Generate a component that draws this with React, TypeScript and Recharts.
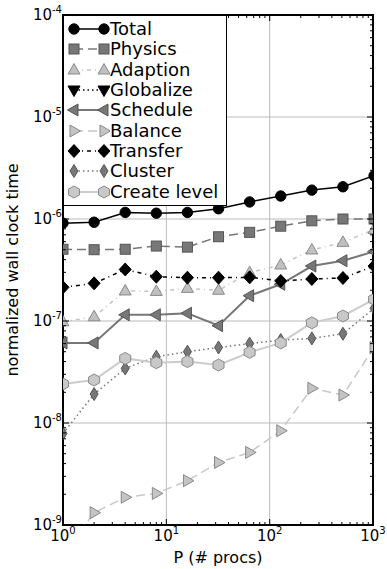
import React from 'react';
import { LineChart, Line, XAxis, YAxis, CartesianGrid, ReferenceArea, Legend } from 'recharts';

const procs = [1, 2, 4, 8, 16, 32, 64, 128, 256, 512, 1024];

const total = [9.1e-7, 9.3e-7, 1.16e-6, 1.14e-6, 1.16e-6, 1.26e-6, 1.47e-6, 1.68e-6, 1.92e-6, 2.07e-6, 2.66e-6];
const physics = [5.05e-7, 5.0e-7, 5.05e-7, 5.43e-7, 5.3e-7, 6.7e-7, 7.4e-7, 8.5e-7, 9.6e-7, 1.0e-6, 1.0e-6];
const adaption = [9.8e-8, 1.1e-7, 1.97e-7, 1.95e-7, 2.09e-7, 2.0e-7, 2.98e-7, 3.54e-7, 4.97e-7, 5.9e-7, 7.9e-7];
const globalize = [null, null, null, null, null, null, null, null, null, null, null];
const schedule = [6.1e-8, 6.1e-8, 1.15e-7, 1.15e-7, 1.19e-7, 9.0e-8, 1.77e-7, 2.29e-7, 3.46e-7, 3.9e-7, 4.8e-7];
const balance = [5.1e-10, 1.32e-9, 1.87e-9, 2.04e-9, 2.72e-9, 4.1e-9, 5.15e-9, 8.4e-9, 2.19e-8, 1.88e-8, 5.5e-8];
const transfer = [2.14e-7, 2.34e-7, 3.2e-7, 2.72e-7, 2.66e-7, 2.66e-7, 2.68e-7, 2.47e-7, 2.58e-7, 2.64e-7, 3.46e-7];
const cluster = [7.9e-9, 1.92e-8, 3.43e-8, 4.47e-8, 5.0e-8, 5.5e-8, 6.0e-8, 6.5e-8, 6.75e-8, 7.5e-8, 1.33e-7];
const createLevel = [2.41e-8, 2.64e-8, 4.3e-8, 3.9e-8, 4.0e-8, 3.7e-8, 4.93e-8, 6.1e-8, 9.6e-8, 1.12e-7, 1.63e-7];

const xMajor = [1, 10, 100, 1000];
const xMinor = [2, 3, 4, 5, 6, 7, 8, 9, 20, 30, 40, 50, 60, 70, 80, 90, 200, 300, 400, 500, 600, 700, 800, 900];
const yMajor = [1e-9, 1e-8, 1e-7, 1e-6, 1e-5, 1e-4];
const yMinor = [1e-9, 1e-8, 1e-7, 1e-6, 1e-5].flatMap((d) => [2, 3, 4, 5, 6, 7, 8, 9].map((m) => m * d));

const W = 387;
const H = 569;
const PLOT_TOP = 15;
const PLOT_RIGHT = 373;

type Kind = 'circle' | 'square' | 'triUp' | 'triDown' | 'triLeft' | 'triRight' | 'diamond' | 'thinDiamond' | 'hexagon';

const series: { key: string; name: string; values: (number | null)[]; kind: Kind; line: string; fill: string; edge: string; width: number; dash?: string }[] = [
  { key: 'total', name: 'Total', values: total, kind: 'circle', line: '#000', fill: '#000', edge: '#000', width: 1.5 },
  { key: 'physics', name: 'Physics', values: physics, kind: 'square', line: '#777', fill: '#777', edge: '#555', width: 1.5, dash: '9 5' },
  { key: 'adaption', name: 'Adaption', values: adaption, kind: 'triUp', line: '#c4c4c4', fill: '#c0c0c0', edge: '#8a8a8a', width: 1.5, dash: '4 4 1 4' },
  { key: 'globalize', name: 'Globalize', values: globalize, kind: 'triDown', line: '#000', fill: '#000', edge: '#000', width: 1.5, dash: '1.5 3' },
  { key: 'schedule', name: 'Schedule', values: schedule, kind: 'triLeft', line: '#777', fill: '#777', edge: '#555', width: 2 },
  { key: 'balance', name: 'Balance', values: balance, kind: 'triRight', line: '#c8c8c8', fill: '#c4c4c4', edge: '#888', width: 1.5, dash: '9 5' },
  { key: 'transfer', name: 'Transfer', values: transfer, kind: 'diamond', line: '#000', fill: '#000', edge: '#000', width: 1.5, dash: '4 4 1 4' },
  { key: 'cluster', name: 'Cluster', values: cluster, kind: 'thinDiamond', line: '#777', fill: '#777', edge: '#555', width: 1.5, dash: '1.5 3' },
  { key: 'createLevel', name: 'Create level', values: createLevel, kind: 'hexagon', line: '#cccccc', fill: '#c8c8c8', edge: '#8a8a8a', width: 2 },
];

const rows = procs.map((p, i) => {
  const row: Record<string, number | null> = { p };
  series.forEach((s) => (row[s.key] = s.values[i]));
  return row;
});

const Marker = ({ kind, cx, cy, fill, edge }: { kind: Kind; cx: number; cy: number; fill: string; edge: string }) => {
  const common = { fill, stroke: edge, strokeWidth: 1 };
  const pts = (arr: number[][]) => arr.map(([dx, dy]) => `${cx + dx},${cy + dy}`).join(' ');
  switch (kind) {
    case 'circle':
      return <circle cx={cx} cy={cy} r={5.2} {...common} />;
    case 'square':
      return <rect x={cx - 5} y={cy - 5} width={10} height={10} {...common} />;
    case 'triUp':
      return <polygon points={pts([[0, -6.5], [6, 4], [-6, 4]])} {...common} />;
    case 'triDown':
      return <polygon points={pts([[0, 6.5], [6, -4], [-6, -4]])} {...common} />;
    case 'triLeft':
      return <polygon points={pts([[-6.5, 0], [4, -6], [4, 6]])} {...common} />;
    case 'triRight':
      return <polygon points={pts([[6.5, 0], [-4, -6], [-4, 6]])} {...common} />;
    case 'diamond':
      return <polygon points={pts([[0, -6.5], [6, 0], [0, 6.5], [-6, 0]])} {...common} />;
    case 'thinDiamond':
      return <polygon points={pts([[0, -6.5], [4, 0], [0, 6.5], [-4, 0]])} {...common} />;
    case 'hexagon':
      return <polygon points={pts([[0, -6], [5.5, -3], [5.5, 3], [0, 6], [-5.5, 3], [-5.5, -3]])} {...common} />;
  }
  return null;
};

const Pow10 = ({ v }: { v: number }) => <>10<tspan dy={-7} fontSize={10}>{Math.round(Math.log10(v))}</tspan></>;

const XTick = (props: any) => {
  const { x, y, payload } = props;
  const v = payload.value;
  const major = xMajor.includes(v);
  const len = major ? 6 : 3;
  return (
    <g>
      <line x1={x} x2={x} y1={y} y2={y - len} stroke="#000" />
      <line x1={x} x2={x} y1={PLOT_TOP} y2={PLOT_TOP + len} stroke="#000" />
      {major && (
        <text x={x} y={y + 16} textAnchor="middle" fontSize={15} fill="#000">
          <Pow10 v={v} />
        </text>
      )}
    </g>
  );
};

const YTick = (props: any) => {
  const { x, y, payload } = props;
  const v = payload.value;
  const major = yMajor.some((m) => Math.abs(m - v) / m < 1e-6);
  const len = major ? 6 : 3;
  return (
    <g>
      <line x1={x} x2={x + len} y1={y} y2={y} stroke="#000" />
      <line x1={PLOT_RIGHT} x2={PLOT_RIGHT - len} y1={y} y2={y} stroke="#000" />
      {major && (
        <text x={x - 1} y={y + 5} textAnchor="end" fontSize={15} fill="#000">
          <Pow10 v={v} />
        </text>
      )}
    </g>
  );
};

const LegendBox = () => (
  <div style={{ background: '#fff', border: '1px solid #000', width: 164, padding: '3px 0 3px 0', boxSizing: 'border-box' }}>
    {series.map((s) => (
      <div key={s.key} style={{ display: 'flex', alignItems: 'center', height: 20.3 }}>
        <svg width={46} height={20} style={{ flex: 'none' }}>
          <line x1={10} x2={40} y1={10} y2={10} stroke={s.line} strokeWidth={s.width} strokeDasharray={s.dash} />
          <Marker kind={s.kind} cx={10} cy={10} fill={s.fill} edge={s.edge} />
          <Marker kind={s.kind} cx={40} cy={10} fill={s.fill} edge={s.edge} />
        </svg>
        <span style={{ fontSize: 18, color: '#000', lineHeight: '20px', whiteSpace: 'nowrap' }}>{s.name}</span>
      </div>
    ))}
  </div>
);

export default function App() {
  return (
    <div style={{ position: 'absolute', left: 0, top: 0, width: W, height: H, background: '#fff', fontFamily: '"DejaVu Sans", sans-serif' }}>
      <LineChart width={W} height={H} data={rows} margin={{ top: PLOT_TOP, right: W - PLOT_RIGHT, bottom: 0, left: 0 }}>
        <CartesianGrid stroke="#bbbbbb" strokeWidth={1} horizontalValues={yMajor} verticalValues={xMajor} />
        <XAxis
          dataKey="p"
          type="number"
          scale="log"
          domain={[1, 1000]}
          allowDataOverflow
          ticks={[...xMajor, ...xMinor]}
          interval={0}
          height={44}
          axisLine={false}
          tickLine={false}
          tickSize={0}
          tickMargin={0}
          tick={<XTick />}
          label={(p: any) => {
            const vb = p.viewBox;
            return (
              <text x={vb.x + vb.width / 2} y={vb.y + 38} textAnchor="middle" fontSize={16} fill="#000">
                P (# procs)
              </text>
            );
          }}
        />
        <YAxis
          type="number"
          scale="log"
          domain={[1e-9, 1e-4]}
          allowDataOverflow
          ticks={[...yMajor, ...yMinor]}
          interval={0}
          width={63}
          axisLine={false}
          tickLine={false}
          tickSize={0}
          tickMargin={0}
          tick={<YTick />}
          label={(p: any) => {
            const vb = p.viewBox;
            const cy = vb.y + vb.height / 2;
            return (
              <text x={18} y={cy} transform={`rotate(-90, 18, ${cy})`} textAnchor="middle" fontSize={16} fill="#000">
                normalized wall clock time
              </text>
            );
          }}
        />
        {series.map((s) => (
          <Line
            key={s.key}
            dataKey={s.key}
            name={s.name}
            stroke={s.line}
            strokeWidth={s.width}
            strokeDasharray={s.dash}
            isAnimationActive={false}
            connectNulls={false}
            dot={(d: any) =>
              d.cx == null || d.cy == null || d.value == null ? (
                <g key={`${s.key}-${d.index}`} />
              ) : (
                <g key={`${s.key}-${d.index}`}>
                  <Marker kind={s.kind} cx={d.cx} cy={d.cy} fill={s.fill} edge={s.edge} />
                </g>
              )
            }
          />
        ))}
        <ReferenceArea x1={1} x2={1000} y1={1e-9} y2={1e-4} fill="none" stroke="#000" strokeWidth={2} ifOverflow="visible" />
        <Legend
          layout="vertical"
          align="center"
          verticalAlign="middle"
          content={() => <LegendBox />}
          wrapperStyle={{ left: 63, top: PLOT_TOP, width: 'auto', height: 'auto' }}
        />
      </LineChart>
    </div>
  );
}
